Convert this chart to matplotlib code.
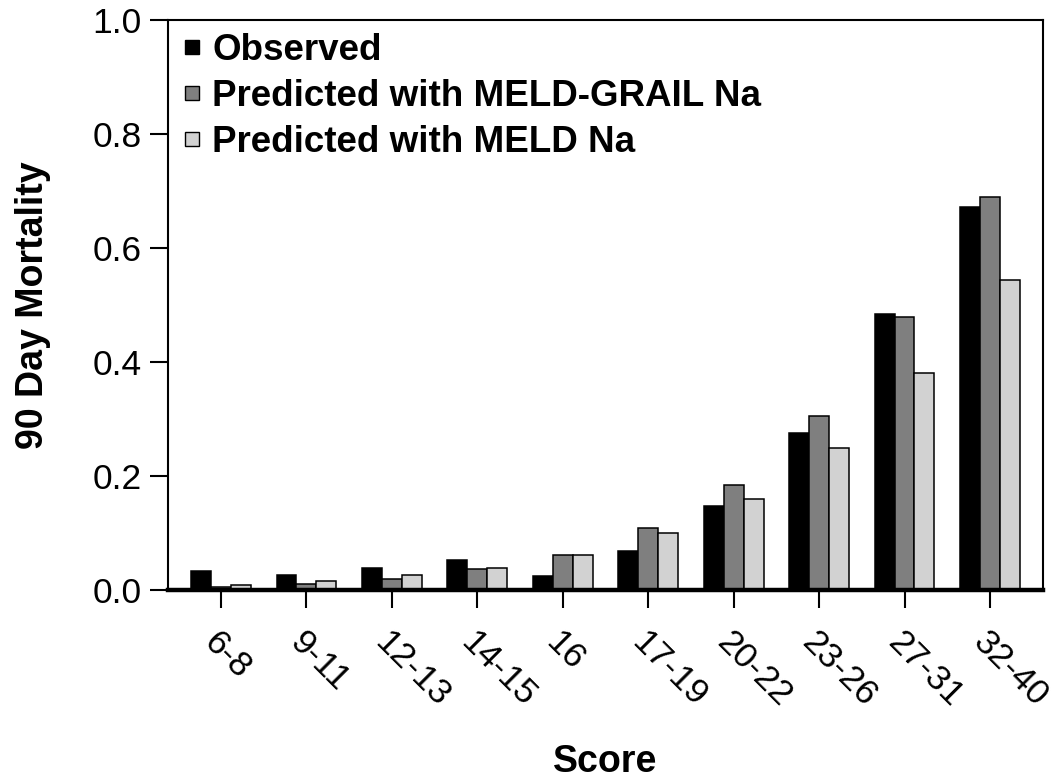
import matplotlib.pyplot as plt
import numpy as np
from matplotlib.lines import Line2D

plt.rcParams['font.family'] = ['Liberation Sans', 'DejaVu Sans']

scores = ['6-8', '9-11', '12-13', '14-15', '16', '17-19', '20-22', '23-26', '27-31', '32-40']
observed = [0.033, 0.026, 0.038, 0.052, 0.024, 0.068, 0.147, 0.275, 0.484, 0.672]
grail_na = [0.006, 0.010, 0.019, 0.036, 0.061, 0.109, 0.184, 0.305, 0.479, 0.689]
meld_na = [0.008, 0.015, 0.026, 0.038, 0.061, 0.100, 0.160, 0.249, 0.381, 0.544]

series_names = ['Observed', 'Predicted with MELD-GRAIL Na', 'Predicted with MELD Na']
colors = ['#000000', '#7f7f7f', '#d2d2d2']

fig = plt.figure(figsize=(10.52, 7.8), dpi=100)
ax = fig.add_axes([0.1597, 0.2436, 0.8317, 0.7308])

x = np.arange(len(scores))
w = 0.233
for i, (vals, c) in enumerate(zip([observed, grail_na, meld_na], colors)):
    ax.bar(x + (i - 1) * w, vals, width=w, color=c, edgecolor='black', linewidth=1.1, zorder=2)

ax.set_xlim(-0.62, 9.62)
ax.set_ylim(0, 1.0)
ax.set_yticks([0.0, 0.2, 0.4, 0.6, 0.8, 1.0])
ax.set_yticklabels(['0.0', '0.2', '0.4', '0.6', '0.8', '1.0'])
ax.set_xticks(x)
ax.set_xticklabels(scores, rotation=-45, ha='left', va='top', rotation_mode='anchor')

ax.tick_params(axis='both', labelsize=25.5, length=13, width=1.5, direction='out')
ax.tick_params(axis='x', pad=13)
ax.tick_params(axis='y', pad=6)

for side in ['left', 'top', 'right']:
    ax.spines[side].set_linewidth(1.5)
ax.spines['bottom'].set_linewidth(3.2)

ax.set_ylabel('90 Day Mortality', fontsize=27, fontweight='bold', labelpad=30)
ax.set_xlabel('Score', fontsize=27, fontweight='bold', labelpad=22)

handles = [Line2D([], [], linestyle='none', marker='s', markersize=10.5,
                  markerfacecolor=c, markeredgecolor='black', markeredgewidth=1.0)
           for c in colors]
leg = ax.legend(handles, series_names, loc='upper left', bbox_to_anchor=(0.0, 1.0),
                frameon=False, prop={'size': 26.5, 'weight': 'bold'},
                handlelength=0.6, handletextpad=0.25, labelspacing=0.3,
                borderaxespad=0.25, borderpad=0.1)

fig.savefig('out.png', dpi=100)
